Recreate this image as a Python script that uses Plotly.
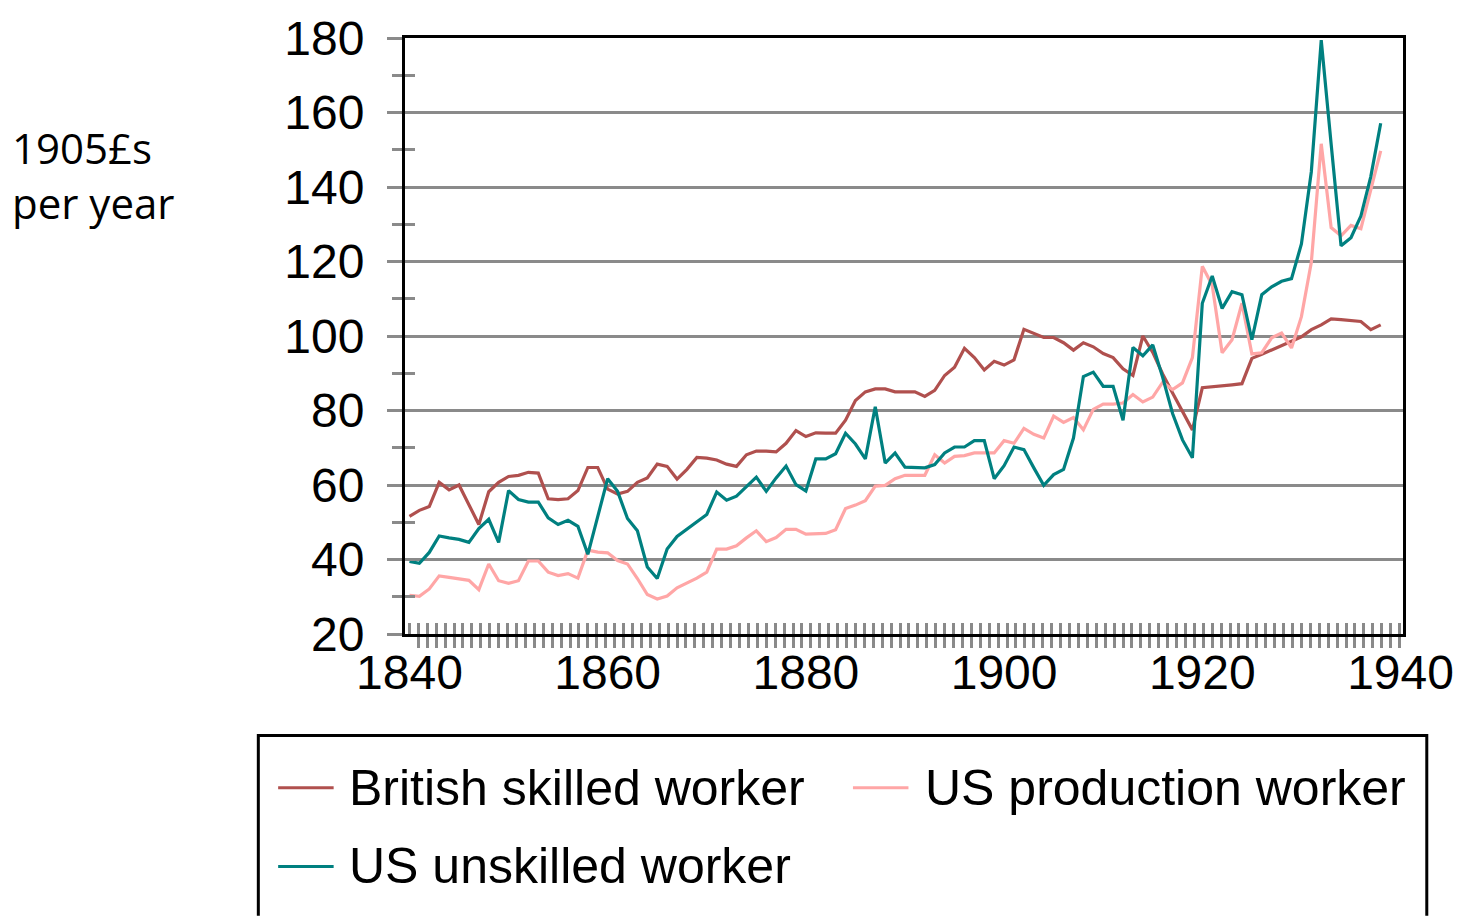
import plotly.graph_objects as go

# Real annual wages, 1905 pounds per year
years = list(range(1840, 1939))

british_skilled = [
    51.6, 53.2, 54.2, 60.7, 58.7, 60.0, 54.7, 49.4, 58.2, 60.7,
    62.3, 62.6, 63.4, 63.2, 56.3, 56.1, 56.3, 58.5, 64.7, 64.7,
    58.9, 57.6, 58.3, 60.7, 61.9, 65.6, 65.0, 61.6, 64.2, 67.4,
    67.2, 66.7, 65.6, 65.0, 68.1, 69.1, 69.1, 68.9, 71.2, 74.6,
    73.0, 74.0, 73.9, 73.9, 77.4, 82.7, 85.0, 85.8, 85.8, 85.0,
    85.0, 85.0, 83.8, 85.4, 89.4, 91.6, 96.7, 94.2, 90.9, 93.2,
    92.2, 93.6, 101.8, 100.6, 99.6, 99.6, 98.2, 96.2, 98.2, 97.1,
    95.3, 94.2, 91.2, 89.4, 100.0, 95.6, 89.8, 84.7, 79.6, 74.8,
    86.1, 86.3, 86.6, 86.9, 87.2, 94.0, 95.1, 96.2, 97.5, 98.6,
    99.8, 101.7, 103.0, 104.6, 104.4, 104.2, 103.9, 101.7, 103.0,
]

us_production = [
    30.4, 30.1, 32.1, 35.6, 35.2, 34.9, 34.4, 31.9, 38.8, 34.3,
    33.6, 34.3, 39.6, 39.6, 36.6, 35.7, 36.2, 35.0, 42.5, 42.0,
    41.8, 39.7, 38.8, 34.9, 30.6, 29.4, 30.2, 32.4, 33.7, 35.0,
    36.6, 42.8, 42.8, 43.7, 45.8, 47.7, 44.8, 45.9, 48.1, 48.1,
    46.8, 46.8, 47.0, 48.0, 53.7, 54.6, 55.8, 59.7, 59.9, 61.7,
    62.6, 62.6, 62.6, 68.1, 65.9, 67.7, 67.9, 68.6, 68.6, 68.6,
    71.9, 71.2, 75.2, 73.6, 72.6, 78.5, 76.8, 78.1, 74.8, 80.3,
    81.7, 81.7, 82.0, 84.3, 82.3, 83.6, 87.6, 85.6, 87.4, 94.2,
    118.7, 113.6, 95.5, 99.0, 108.8, 95.2, 95.5, 99.5, 100.8, 96.8,
    105.2, 119.8, 151.6, 129.1, 126.9, 129.7, 128.8, 139.2, 149.7,
]

us_unskilled = [
    39.5, 39.0, 41.9, 46.3, 45.8, 45.4, 44.6, 48.3, 50.8, 44.6,
    58.5, 56.1, 55.4, 55.4, 51.2, 49.4, 50.5, 48.9, 41.4, 51.8,
    61.7, 58.3, 51.0, 47.7, 38.0, 34.9, 42.8, 46.2, 48.1, 50.1,
    52.1, 58.1, 55.9, 57.0, 59.6, 62.1, 58.3, 61.9, 65.1, 60.1,
    58.4, 67.0, 67.0, 68.4, 73.9, 71.0, 67.0, 81.0, 65.9, 68.6,
    64.8, 64.8, 64.6, 65.5, 68.6, 70.2, 70.2, 71.9, 71.9, 61.7,
    65.2, 70.2, 69.5, 64.6, 59.9, 62.8, 64.2, 72.6, 89.1, 90.3,
    86.5, 86.5, 77.4, 96.9, 94.7, 97.6, 88.9, 79.2, 72.1, 67.3,
    108.8, 116.1, 107.4, 111.9, 111.1, 99.0, 111.1, 113.2, 114.7, 115.4,
    124.7, 144.1, 179.4, 151.5, 124.2, 126.4, 132.2, 142.8, 157.1,
]

series_names = ["British skilled worker", "US production worker", "US unskilled worker"]
series_values = [british_skilled, us_production, us_unskilled]
series_colors = ["#B0504E", "#FFA6A6", "#008080"]

WIDTH, HEIGHT = 1466, 921
M_L, M_R, M_T, M_B = 405, 54, 29, 287
PLOT_W = WIDTH - M_L - M_R
PLOT_H = HEIGHT - M_T - M_B


def px_x(px):
    # pixel column -> paper x
    return (px - M_L) / PLOT_W


def px_y(py):
    # pixel row -> paper y
    return (HEIGHT - M_B - py) / PLOT_H


TICK_FONT = dict(family="Liberation Sans, Arial, sans-serif", size=48, color="black")
GREY = "#8A8A8A"

fig = go.Figure()

for i, (name, vals, color) in enumerate(zip(series_names, series_values, series_colors)):
    # last series goes on the overlay axes so those axes (inner ticks) get drawn
    axes = dict(xaxis="x2", yaxis="y2") if i == len(series_names) - 1 else {}
    fig.add_trace(go.Scatter(
        x=years, y=vals, name=name, mode="lines",
        line=dict(color=color, width=3.2), **axes,
    ))

x_range = [1839.55, 1940.25]
y_range = [20, 180]

fig.update_layout(
    width=WIDTH, height=HEIGHT,
    margin=dict(l=M_L, r=M_R, t=M_T, b=M_B),
    plot_bgcolor="white", paper_bgcolor="white",
    showlegend=False,
    xaxis=dict(
        range=x_range, tickmode="linear", tick0=1840, dtick=20,
        ticks="", showgrid=False, zeroline=False,
        showline=True, linecolor="black", linewidth=3, mirror=True,
        tickfont=TICK_FONT, ticklabelstandoff=-6, ticklabeloverflow="allow",
        minor=dict(ticks="outside", tickmode="linear", tick0=1840, dtick=0.9,
                   ticklen=11, tickwidth=3, tickcolor=GREY, showgrid=False),
    ),
    xaxis2=dict(
        range=x_range, overlaying="x", anchor="y2", side="bottom",
        tickmode="linear", tick0=1840, dtick=0.9,
        ticks="inside", ticklen=11, tickwidth=3, tickcolor=GREY,
        showticklabels=False, showgrid=False, zeroline=False, showline=False,
    ),
    yaxis=dict(
        range=y_range, tickmode="linear", tick0=20, dtick=20,
        ticks="outside", ticklen=15, tickwidth=3, tickcolor=GREY,
        showgrid=True, gridcolor=GREY, gridwidth=3, zeroline=False,
        showline=True, linecolor="black", linewidth=3, mirror=True,
        tickfont=TICK_FONT, ticklabelstandoff=13, ticklabeloverflow="allow",
        minor=dict(ticks="outside", tickmode="linear", tick0=20, dtick=10,
                   ticklen=10, tickwidth=3, tickcolor=GREY, showgrid=False),
    ),
    yaxis2=dict(
        range=y_range, overlaying="y", anchor="x2", side="left",
        tickmode="linear", tick0=20, dtick=10,
        ticks="inside", ticklen=10, tickwidth=3, tickcolor=GREY,
        showticklabels=False, showgrid=False, zeroline=False, showline=False,
    ),
)

# y-axis unit label, top left
title_font = dict(family="Open Sans, sans-serif", size=42, color="black")
for text, py in [("1905£s", 140), ("per year", 196)]:
    fig.add_annotation(
        text=text, xref="paper", yref="paper", x=px_x(6), y=px_y(py),
        xanchor="left", yanchor="middle", showarrow=False, font=title_font,
    )

# legend frame below the plot; it runs off the bottom of the picture,
# so only the left, top and right sides are drawn
bx0, bx1 = px_x(257), px_x(1436)
by_top, by_bot = px_y(737), px_y(HEIGHT - 1)
fig.add_shape(
    type="path", xref="paper", yref="paper",
    path=f"M {bx0},{by_bot} L {bx0},{by_top} L {bx1},{by_top} L {bx1},{by_bot}",
    line=dict(color="black", width=3),
)

legend_pos = [(277, 790, 346), (857, 790, 928), (277, 870, 346)]
legend_font = dict(family="Liberation Sans, Arial, sans-serif", size=50, color="black")
for name, color, (lx, ly, tx) in zip(series_names, series_colors, legend_pos):
    fig.add_shape(
        type="line", xref="paper", yref="paper",
        x0=px_x(lx), x1=px_x(lx + 56), y0=px_y(ly), y1=px_y(ly),
        line=dict(color=color, width=3),
    )
    fig.add_annotation(
        text=name, xref="paper", yref="paper", x=px_x(tx), y=px_y(ly),
        xanchor="left", yanchor="middle", showarrow=False, font=legend_font,
    )

# no page margin / scrollbars, so the figure sits exactly in the window
fig.write_html(
    "out.html",
    config={"displayModeBar": False},
    post_script="document.body.style.margin='0';document.body.style.overflow='hidden';",
)
